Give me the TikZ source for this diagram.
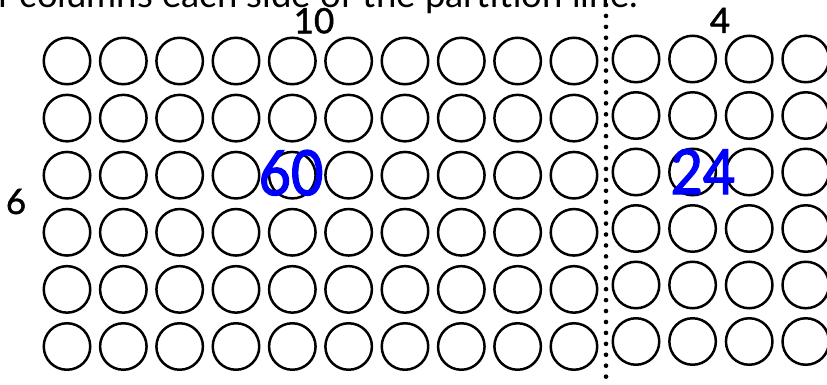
\documentclass[tikz,border=0pt]{standalone}
\usepackage{fontspec}
\setmainfont{Lato}
\newfontfamily\medfont[FakeBold=1.2]{Lato}
\newfontfamily\heavyfont[FakeBold=2.2]{Lato}
\begin{document}
\begin{tikzpicture}[x=1pt,y=-1pt,
  ball/.style={circle,draw=black,line width=2.5pt,minimum size=46.5pt,inner sep=0pt},
  lbl/.style={font=\medfont\fontsize{35}{40}\selectfont,inner sep=0pt,anchor=base},
  big/.style={font=\heavyfont\fontsize{62}{70}\selectfont,text=blue,inner sep=0pt,anchor=base},
  head/.style={font=\fontsize{36.5}{42}\selectfont,inner sep=0pt,anchor=base east},
  partition/.style={line width=4.6pt,line cap=round,dash pattern=on 0pt off 10.93pt}]
\useasboundingbox (0,0) rectangle (827,385);
\clip (0,0) rectangle (827,385);
% left block: 10 columns x 6 rows
\foreach \c in {0,...,9}{
  \foreach \r in {0,...,5}{
    \node[ball] (L-\r-\c) at ({67+56.33*\c},{61+57.1*\r}) {};
  }
}
% right block: 4 columns x 6 rows
\foreach \c in {0,...,3}{
  \foreach \r in {0,...,5}{
    \node[ball] (R-\r-\c) at ({636+56.6*\c},{59+56.5*\r}) {};
  }
}
% partition line
\coordinate (ptop) at (606,5);
\coordinate (pbot) at (606,377);
\draw[partition] (ptop) -- (pbot);
% labels
\node[head] (heading) at (638,7.3) {f columns each side of the partition line.};
\node[lbl] (ten) at (314,33.3) {10};
\node[lbl] (four) at (720,33) {4};
\node[lbl] (six) at (16,214) {6};
\node[big] (sixty) at (291,195) {\scalebox{0.9}[1]{60}};
\node[big] (twentyfour) at (703,194) {\scalebox{0.9}[1]{24}};
\end{tikzpicture}
\end{document}
